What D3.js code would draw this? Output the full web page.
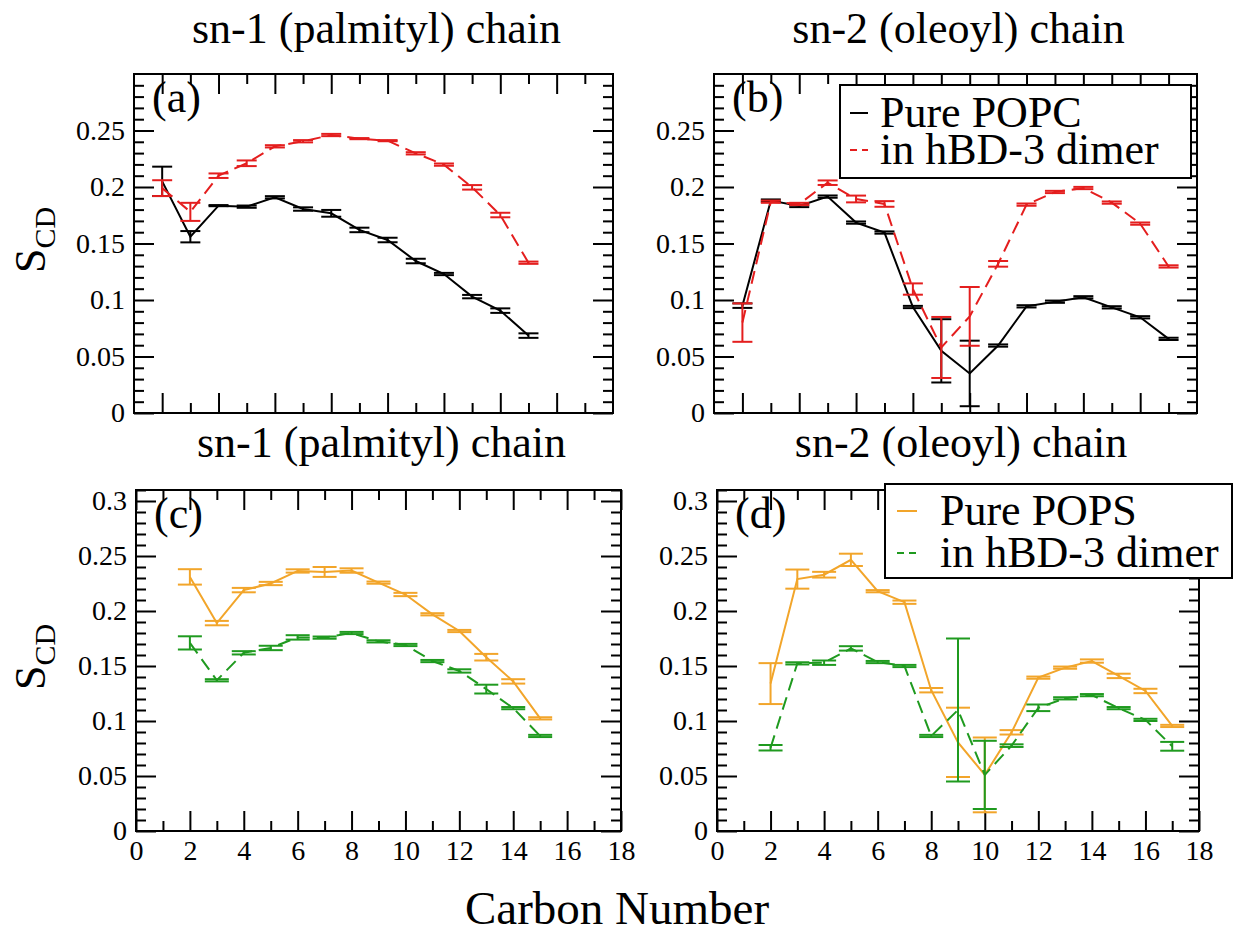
<!DOCTYPE html>
<html>
<head>
<meta charset="utf-8">
<script src="https://cdn.jsdelivr.net/npm/d3@7"></script>
<style>
  html, body { margin: 0; padding: 0; background: #fff; }
  svg { display: block; font-family: 'Liberation Serif','Times New Roman',Times,serif; }
</style>
</head>
<body>
<svg id="chart" width="1234" height="934"></svg>
<script>
// ---------------- DATA ----------------
const carbonsSn1 = [2, 3, 4, 5, 6, 7, 8, 9, 10, 11, 12, 13, 14, 15];
const carbonsSn2 = [2, 3, 4, 5, 6, 7, 8, 9, 10, 11, 12, 13, 14, 15, 16, 17];

// (a) POPC sn-1
const popcSn1      = [0.205, 0.156, 0.1835, 0.1826, 0.1909, 0.1805, 0.1767, 0.162, 0.1531, 0.1345, 0.123, 0.103, 0.0906, 0.0685];
const popcSn1Err   = [0.013, 0.005, 0.0005, 0.001, 0.001, 0.0015, 0.003, 0.002, 0.002, 0.002, 0.001, 0.0015, 0.002, 0.002];
const popcDimSn1   = [0.199, 0.178, 0.210, 0.221, 0.236, 0.2405, 0.246, 0.2428, 0.241, 0.2298, 0.2198, 0.1997, 0.1752, 0.133];
const popcDimSn1Err= [0.007, 0.008, 0.002, 0.0025, 0.001, 0.001, 0.001, 0.0005, 0.0005, 0.001, 0.001, 0.002, 0.002, 0.001];

// (b) POPC sn-2
const popcSn2      = [0.095, 0.188, 0.1832, 0.1915, 0.1685, 0.1597, 0.0938, 0.055, 0.035, 0.0597, 0.0944, 0.0985, 0.1024, 0.0935, 0.0847, 0.0656];
const popcSn2Err   = [0.002, 0.001, 0.001, 0.001, 0.001, 0.001, 0.001, 0.028, 0.029, 0.001, 0.001, 0.001, 0.001, 0.001, 0.001, 0.001];
const popcDimSn2   = [0.080, 0.187, 0.185, 0.2038, 0.1894, 0.185, 0.1097, 0.058, 0.0855, 0.132, 0.1844, 0.1956, 0.1991, 0.1862, 0.1676, 0.1297];
const popcDimSn2Err= [0.017, 0.001, 0.001, 0.002, 0.003, 0.0025, 0.005, 0.027, 0.026, 0.0025, 0.001, 0.001, 0.001, 0.001, 0.001, 0.001];

// (c) POPS sn-1
const popsSn1      = [0.231, 0.189, 0.219, 0.225, 0.2364, 0.2355, 0.2368, 0.2258, 0.215, 0.197, 0.1818, 0.158, 0.136, 0.1024];
const popsSn1Err   = [0.007, 0.002, 0.002, 0.0015, 0.0015, 0.0045, 0.002, 0.001, 0.0015, 0.001, 0.001, 0.003, 0.002, 0.001];
const popsDimSn1   = [0.171, 0.137, 0.162, 0.1664, 0.176, 0.1758, 0.180, 0.1724, 0.1691, 0.1545, 0.1455, 0.129, 0.1117, 0.0864];
const popsDimSn1Err= [0.006, 0.001, 0.0015, 0.002, 0.002, 0.001, 0.001, 0.001, 0.001, 0.001, 0.0015, 0.004, 0.001, 0.001];

// (d) POPS sn-2
const popsSn2      = [0.134, 0.229, 0.233, 0.2465, 0.218, 0.208, 0.128, 0.0806, 0.051, 0.0897, 0.1394, 0.1485, 0.1545, 0.141, 0.1273, 0.0955];
const popsSn2Err   = [0.0186, 0.0087, 0.0026, 0.0056, 0.001, 0.0015, 0.002, 0.0315, 0.034, 0.002, 0.001, 0.001, 0.0015, 0.002, 0.002, 0.001];
const popsDimSn2   = [0.0757, 0.1524, 0.153, 0.166, 0.1536, 0.150, 0.0864, 0.110, 0.051, 0.0776, 0.112, 0.1206, 0.1235, 0.1117, 0.101, 0.077];
const popsDimSn2Err= [0.0025, 0.001, 0.002, 0.002, 0.001, 0.001, 0.001, 0.065, 0.031, 0.0012, 0.003, 0.001, 0.001, 0.001, 0.001, 0.004];

// ticks / labels
const xTickValuesTop    = [2, 4, 6, 8, 10, 12, 14, 16];
const xTickValuesBottom = [0, 2, 4, 6, 8, 10, 12, 14, 16, 18];
const xTickLabelsBottom = ["0", "2", "4", "6", "8", "10", "12", "14", "16", "18"];
const yTickValuesTop    = [0, 0.05, 0.1, 0.15, 0.2, 0.25];
const yTickLabelsTop    = ["0", "0.05", "0.1", "0.15", "0.2", "0.25"];
const yTickValuesBottom = [0, 0.05, 0.1, 0.15, 0.2, 0.25, 0.3];
const yTickLabelsBottom = ["0", "0.05", "0.1", "0.15", "0.2", "0.25", "0.3"];

const panelTitles  = ["sn-1 (palmityl) chain", "sn-2 (oleoyl) chain", "sn-1 (palmityl) chain", "sn-2 (oleoyl) chain"];
const panelLetters = ["(a)", "(b)", "(c)", "(d)"];
const legendTop    = ["Pure POPC", "in hBD-3 dimer"];
const legendBottom = ["Pure POPS", "in hBD-3 dimer"];
const xAxisTitle = "Carbon Number";

// ---------------- DRAWING ----------------
const FONT = "'Liberation Serif','Times New Roman',Times,serif";
const RED = "#e41e1e", BLACK = "#000000", ORANGE = "#f2a52a", GREEN = "#1f9a1f";
const svg = d3.select("#chart");
svg.append("rect").attr("width", 1234).attr("height", 934).attr("fill", "#fff");

function zip(xs, vs, es) { return xs.map((c, i) => ({ c, v: vs[i], e: es[i] })); }

function minorRange(lo, hi, step, majorStep) {
  const out = [];
  const n = Math.round((hi - lo) / step);
  for (let i = 0; i <= n; i++) {
    const v = lo + i * step;
    const r = Math.round(v / majorStep * 1000) / 1000;
    if (Math.abs(r - Math.round(r)) > 1e-6) out.push(+v.toFixed(4));
  }
  return out;
}

function styleAxis(sel) {
  sel.attr("font-family", FONT);
  sel.select(".domain").remove();
  sel.selectAll(".tick line").attr("stroke", "#000").attr("stroke-width", 2);
  sel.selectAll(".tick text").style("font-family", FONT).attr("font-size", 28).attr("fill", "#000");
}

function drawPanel(cfg) {
  const g = svg.append("g").attr("transform", `translate(${cfg.left},${cfg.top})`);
  const w = cfg.width, h = cfg.height;
  const x = d3.scaleLinear().domain(cfg.xDomain).range([0, w]);
  const y = d3.scaleLinear().domain(cfg.yDomain).range([h, 0]);

  const xMinor = minorRange(cfg.xDomain[0], cfg.xDomain[1], 1, 2).filter(v => v > cfg.xDomain[0] && v < cfg.xDomain[1]);
  const yMinor = minorRange(0, cfg.yDomain[1] - 0.001, 0.01, 0.05).filter(v => v > 0);

  const MAJ = 20, MIN = 10;
  g.append("g").attr("transform", `translate(0,${h})`)
    .call(d3.axisBottom(x).tickValues(cfg.xTicks).tickSize(-MAJ).tickSizeOuter(0).tickPadding(9)
      .tickFormat((d, i) => cfg.xLabels ? cfg.xLabels[i] : ""))
    .call(styleAxis);
  g.append("g").attr("transform", `translate(0,${h})`)
    .call(d3.axisBottom(x).tickValues(xMinor).tickSize(-MIN).tickSizeOuter(0).tickFormat(""))
    .call(styleAxis);
  g.append("g")
    .call(d3.axisTop(x).tickValues(cfg.xTicks).tickSize(-MAJ).tickSizeOuter(0).tickFormat(""))
    .call(styleAxis);
  g.append("g")
    .call(d3.axisTop(x).tickValues(xMinor).tickSize(-MIN).tickSizeOuter(0).tickFormat(""))
    .call(styleAxis);
  g.append("g")
    .call(d3.axisLeft(y).tickValues(cfg.yTicks).tickSize(-MAJ).tickSizeOuter(0).tickPadding(9)
      .tickFormat((d, i) => cfg.yLabels[i]))
    .call(styleAxis);
  g.append("g")
    .call(d3.axisLeft(y).tickValues(yMinor).tickSize(-MIN).tickSizeOuter(0).tickFormat(""))
    .call(styleAxis);
  g.append("g").attr("transform", `translate(${w},0)`)
    .call(d3.axisRight(y).tickValues(cfg.yTicks).tickSize(-MAJ).tickSizeOuter(0).tickFormat(""))
    .call(styleAxis);
  g.append("g").attr("transform", `translate(${w},0)`)
    .call(d3.axisRight(y).tickValues(yMinor).tickSize(-MIN).tickSizeOuter(0).tickFormat(""))
    .call(styleAxis);

  g.append("rect").attr("x", 0).attr("y", 0).attr("width", w).attr("height", h)
    .attr("fill", "none").attr("stroke", "#000").attr("stroke-width", 2);

  const line = d3.line().x(d => x(d.c)).y(d => y(d.v));
  cfg.series.forEach(s => {
    g.append("path").datum(s.data)
      .attr("fill", "none").attr("stroke", s.color).attr("stroke-width", 2)
      .attr("stroke-dasharray", s.dash || null)
      .attr("d", line);
    const eb = g.append("g").attr("stroke", s.color).attr("stroke-width", 2);
    s.data.forEach(d => {
      const cx = x(d.c), y1 = y(d.v + d.e), y2 = y(d.v - d.e);
      eb.append("line").attr("x1", cx).attr("x2", cx).attr("y1", y1).attr("y2", y2);
      eb.append("line").attr("x1", cx - cfg.cap).attr("x2", cx + cfg.cap).attr("y1", y1).attr("y2", y1);
      eb.append("line").attr("x1", cx - cfg.cap).attr("x2", cx + cfg.cap).attr("y1", y2).attr("y2", y2);
    });
  });

  g.append("text").attr("x", 18).attr("y", 38)
    .attr("font-family", FONT).attr("font-size", 44).text(cfg.letter);

  svg.append("text").attr("x", cfg.left + w / 2 + 3).attr("y", cfg.top - cfg.titleOffset)
    .attr("text-anchor", "middle").attr("font-family", FONT).attr("font-size", 44)
    .text(cfg.title);

  if (cfg.legend) {
    const L = cfg.legend;
    const lg = svg.append("g").attr("transform", `translate(${L.x},${L.y})`);
    lg.append("rect").attr("width", L.w).attr("height", L.h)
      .attr("fill", "#fff").attr("stroke", "#000").attr("stroke-width", 2);
    L.items.forEach((it, i) => {
      const base = L.base[i];
      lg.append("line").attr("x1", L.sx0).attr("x2", L.sx1)
        .attr("y1", base - 14).attr("y2", base - 14)
        .attr("stroke", it.color).attr("stroke-width", 2)
        .attr("stroke-dasharray", it.dash ? "7,5" : null);
      lg.append("text").attr("x", L.tx).attr("y", base)
        .attr("font-family", FONT).attr("font-size", 44).text(it.label);
    });
  }
}

const panels = [
  { left: 134, top: 74, width: 479, height: 339, xDomain: [1, 18], yDomain: [0, 0.3],
    xTicks: xTickValuesTop, xLabels: null, yTicks: yTickValuesTop, yLabels: yTickLabelsTop,
    letter: panelLetters[0], title: panelTitles[0], titleOffset: 31, cap: 10,
    series: [
      { color: BLACK, data: zip(carbonsSn1, popcSn1, popcSn1Err) },
      { color: RED, dash: "13,7", data: zip(carbonsSn1, popcDimSn1, popcDimSn1Err) }
    ] },
  { left: 714, top: 74, width: 483, height: 339, xDomain: [1, 18], yDomain: [0, 0.3],
    xTicks: xTickValuesTop, xLabels: null, yTicks: yTickValuesTop, yLabels: yTickLabelsTop,
    letter: panelLetters[1], title: panelTitles[1], titleOffset: 31, cap: 10,
    series: [
      { color: BLACK, data: zip(carbonsSn2, popcSn2, popcSn2Err) },
      { color: RED, dash: "13,7", data: zip(carbonsSn2, popcDimSn2, popcDimSn2Err) }
    ],
    legend: { x: 840, y: 85, w: 351, h: 93, sx0: 10, sx1: 28, tx: 40, base: [42, 79],
      items: [ { label: legendTop[0], color: BLACK }, { label: legendTop[1], color: RED, dash: true } ] } },
  { left: 136, top: 490, width: 485, height: 341, xDomain: [0, 18], yDomain: [0, 0.31],
    xTicks: xTickValuesBottom, xLabels: xTickLabelsBottom, yTicks: yTickValuesBottom, yLabels: yTickLabelsBottom,
    letter: panelLetters[2], title: panelTitles[2], titleOffset: 33, cap: 12,
    series: [
      { color: ORANGE, data: zip(carbonsSn1, popsSn1, popsSn1Err) },
      { color: GREEN, dash: "13,7", data: zip(carbonsSn1, popsDimSn1, popsDimSn1Err) }
    ] },
  { left: 717, top: 490, width: 482, height: 341, xDomain: [0, 18], yDomain: [0, 0.31],
    xTicks: xTickValuesBottom, xLabels: xTickLabelsBottom, yTicks: yTickValuesBottom, yLabels: yTickLabelsBottom,
    letter: panelLetters[3], title: panelTitles[3], titleOffset: 33, cap: 12,
    series: [
      { color: ORANGE, data: zip(carbonsSn2, popsSn2, popsSn2Err) },
      { color: GREEN, dash: "13,7", data: zip(carbonsSn2, popsDimSn2, popsDimSn2Err) }
    ],
    legend: { x: 885, y: 484, w: 347, h: 94, sx0: 12, sx1: 32, tx: 55, base: [41, 83],
      items: [ { label: legendBottom[0], color: ORANGE }, { label: legendBottom[1], color: GREEN, dash: true } ] } }
];

panels.forEach(drawPanel);

[[45, 240], [45, 657]].forEach(([lx, ly]) => {
  const t = svg.append("text").attr("transform", `translate(${lx},${ly}) rotate(-90)`)
    .attr("text-anchor", "middle").attr("font-family", FONT).attr("font-size", 44);
  t.append("tspan").text("S");
  t.append("tspan").attr("font-size", 30).attr("dy", 10).text("CD");
});

svg.append("text").attr("x", 617).attr("y", 924).attr("text-anchor", "middle")
  .attr("font-family", FONT).attr("font-size", 47).text(xAxisTitle);
</script>
</body>
</html>
